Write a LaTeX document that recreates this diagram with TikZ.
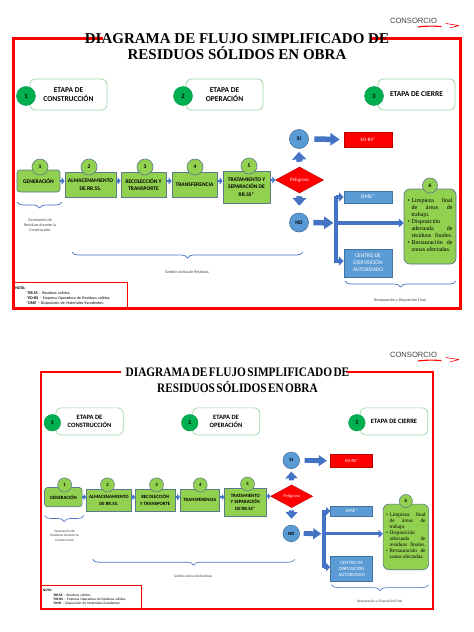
\documentclass[tikz,border=0pt]{standalone}
\usepackage{fontspec}
\usepackage{graphicx}
\setmainfont{Carlito}
\newfontfamily\serif{Liberation Serif}
\newfontfamily\arialf{Liberation Sans}
\usetikzlibrary{arrows.meta,shapes.geometric,decorations.pathreplacing}
\definecolor{frameRed}{HTML}{FF0000}
\definecolor{procGreen}{HTML}{92D050}
\definecolor{procEdge}{HTML}{5B7A8C}
\definecolor{stageGreen}{HTML}{00B050}
\definecolor{stageEdge}{HTML}{9ED8A8}
\definecolor{blueFill}{HTML}{5B9BD5}
\definecolor{blueEdge}{HTML}{41719C}
\definecolor{arrowBlue}{HTML}{4472C4}
\definecolor{labelGray}{HTML}{404040}
\definecolor{redEdge}{HTML}{C00000}
\newcommand\dsc{1}
\newcommand\condtitle[1]{\scalebox{0.87}[1]{\spaceskip=1.6pt\relax #1}}
\tikzset{
  stagebox/.style={draw=stageEdge, line width=0.8pt*\dsc, fill=white, rounded corners=5pt,
    minimum width=77pt, minimum height=31pt, inner sep=0pt, align=center,
    font=\bfseries\fontsize{7.5}{9.3}\selectfont},
  stagenum/.style={circle, fill=stageGreen, draw=stageGreen!85!black, line width=0.4pt*\dsc,
    minimum size=19pt, inner sep=0pt, font=\bfseries\fontsize{6.5}{7}\selectfont},
  procbox/.style={draw=procEdge, fill=procGreen, line width=0.7pt*\dsc, inner sep=0pt,
    align=center, font=\bfseries\fontsize{5.5}{7.5}\selectfont},
  procnum/.style={circle, fill=procGreen, draw=procEdge, line width=0.6pt*\dsc,
    minimum size=16pt, inner sep=0pt, font=\bfseries\fontsize{5.5}{6}\selectfont},
  bluecirc/.style={circle, fill=blueFill, draw=blueEdge, line width=0.6pt*\dsc,
    minimum size=19pt, inner sep=0pt, font=\bfseries\fontsize{5.5}{6}\selectfont},
  bluebox/.style={fill=blueFill, draw=blueEdge, line width=0.6pt*\dsc, inner sep=0pt,
    align=center, text=white, font=\fontsize{5.5}{7}\selectfont, minimum width=48pt},
  redbox/.style={fill=frameRed, draw=redEdge, line width=0.6pt*\dsc, inner sep=0pt,
    text=white, font=\fontsize{5}{6}\selectfont, minimum width=48pt, minimum height=15pt},
  decision/.style={diamond, aspect=1.85, fill=frameRed, draw=redEdge, line width=0.5pt*\dsc,
    inner sep=0pt, minimum width=48pt, minimum height=26pt, text=white,
    font=\serif\fontsize{5}{6}\selectfont},
  smallarr/.style={draw=arrowBlue, line width=2.5pt*\dsc, -{Triangle[length=0pt 1.2, width=0pt 2.8]}},
  bigarr/.style={draw=arrowBlue, line width=5.5pt*\dsc, -{Triangle[length=0pt 1.7, width=0pt 2.2]}},
  vertarr/.style={draw=arrowBlue, line width=6pt*\dsc, -{Triangle[length=0pt 1.3, width=0pt 2.3]}},
  brarr/.style={draw=arrowBlue, line width=3.5pt*\dsc, -{Triangle[length=0pt 1.4, width=0pt 2.6]}},
  trunkline/.style={draw=arrowBlue, line width=4.5pt*\dsc},
  bracestyle/.style={draw=arrowBlue, line width=0.7pt*\dsc, decorate,
    decoration={brace, amplitude=6pt, aspect=0.5}},
  smalllabel/.style={inner sep=0pt, align=center, text=labelGray, font=\fontsize{4}{5}\selectfont},
  notabox/.style={draw=frameRed, line width=0.6pt*\dsc, minimum width=114pt, minimum height=27pt,
    text width=110pt, inner sep=2pt, align=left, font=\fontsize{4}{5}\selectfont},
  finalbox/.style={procbox, rounded corners=6pt, minimum width=52pt, minimum height=75pt},
  finaltext/.style={inner sep=0pt, align=left, font=\serif\fontsize{6}{7}\selectfont},
  titlefont/.style={inner sep=0pt, anchor=base, font=\serif\bfseries\fontsize{15}{18}\selectfont},
  titlecond/.style={inner sep=0pt, anchor=base, font=\serif\bfseries\fontsize{13}{15}\selectfont},
  consorcio/.style={inner sep=0pt, anchor=base, text=labelGray, font=\arialf\fontsize{7.6}{9}\selectfont}
}
\newcommand\flowdiagram[2]{%
  % stages
  \node[stagebox] (sb1) at (68.5,94.5) {ETAPA DE\\CONSTRUCCIÓN};
  \node[stagenum] (sn1) at (26,96) {1};
  \node[stagebox] (sb2) at (224.5,94.5) {ETAPA DE\\OPERACIÓN};
  \node[stagenum] (sn2) at (183,96) {2};
  \node[stagebox] (sb3) at (416.5,94.5) {ETAPA DE CIERRE};
  \node[stagenum] (sn3) at (374,96) {3};
  % process row
  \node[procbox, rounded corners=3pt, minimum width=43pt, minimum height=22pt] (p1) at (38.5,181) {GENERACIÓN};
  \node[procbox, minimum width=51pt, minimum height=25pt] (p2) at (90.5,184.5) {ALMACENAMIENTO\\DE RR.SS.};
  \node[procbox, minimum width=45pt, minimum height=25pt] (p3) at (143.5,184.5) {#1};
  \node[procbox, minimum width=45pt, minimum height=25pt] (p4) at (194.5,184.5) {TRANSFERENCIA};
  \node[procbox, minimum width=47pt, minimum height=32pt] (p5) at (246.5,187) {#2};
  \node[procnum] (n1) at (40,167) {1};
  \node[procnum] (n2) at (89,167) {2};
  \node[procnum] (n3) at (145,167) {3};
  \node[procnum] (n4) at (195,167) {4};
  \node[procnum] (n5) at (249,166) {5};
  % decision
  \node[decision] (dia) at (299.5,180) {Peligroso};
  \node[bluecirc] (si) at (299,139) {SI};
  \node[bluecirc] (no) at (299,222.5) {NO};
  \node[redbox] (eo) at (368,139.5) {EO-RS*};
  \node[bluebox, minimum height=12pt] (dme) at (368,197) {DME*};
  \node[bluebox, minimum height=28pt] (cda) at (368,263) {CENTRO DE\\DISPOSICIÓN\\AUTORIZADO};
  \node[finalbox] (b6) at (430,226.5) {};
  \node[finaltext] (b6t) at (430,225) {%
    \makebox[4pt][l]{\textbullet}\makebox[41pt][s]{Limpieza final}\\
    \hspace*{4pt}\makebox[41pt][s]{de áreas de}\\
    \hspace*{4pt}trabajo.\\
    \makebox[4pt][l]{\textbullet}Disposición\\
    \hspace*{4pt}\makebox[41pt][s]{adecuada de}\\
    \hspace*{4pt}\makebox[41pt][s]{residuos finales.}\\
    \makebox[4pt][l]{\textbullet}\makebox[41pt][s]{Restauración de}\\
    \hspace*{4pt}zonas afectadas.};
  \node[procnum, minimum size=15pt] (n6) at (430,185.5) {6};
  % connectors
  \draw[smallarr] (p1.east) -- (p1.east -| p2.west);
  \draw[smallarr] (p2.east |- p1.east) -- (p3.west |- p1.east);
  \draw[smallarr] (p3.east |- p1.east) -- (p4.west |- p1.east);
  \draw[smallarr] (p4.east |- p1.east) -- (p5.west |- p1.east);
  \draw[smallarr] (p5.east |- dia.west) -- (dia.west);
  \draw[vertarr, shorten <=5pt*\dsc, shorten >=3pt*\dsc] (dia.north) -- (si.south);
  \draw[vertarr, shorten <=3pt*\dsc, shorten >=7pt*\dsc] (dia.south) -- (no.north);
  \draw[bigarr, shorten <=5.5pt*\dsc, shorten >=4pt*\dsc] (si.east) -- (eo.west);
  \coordinate (tt) at (336,195.5);
  \coordinate (tm) at (336,223);
  \coordinate (tb) at (336,262.5);
  \coordinate (ttb) at (336,197);
  \coordinate (tbb) at (336,261);
  \draw[trunkline] (tt) -- (tb);
  \draw[bigarr, shorten <=4.5pt*\dsc, shorten >=2.5pt*\dsc] (no.east) -- (tm);
  \draw[brarr] (ttb) -- (ttb -| dme.west);
  \draw[brarr] (tm) -- (tm -| b6.west);
  \draw[brarr] (tbb) -- (tbb -| cda.west);
  % braces and labels
  \coordinate (br1a) at (17,202);
  \coordinate (br1b) at (62,202);
  \draw[bracestyle] (br1b) -- (br1a);
  \node[smalllabel] (lab1) at (40,225) {Generación de\\Residuos durante la\\Construcción};
  \coordinate (br2a) at (72,252);
  \coordinate (br2b) at (303,252);
  \draw[bracestyle] (br2b) -- (br2a);
  \node[smalllabel] (lab2) at (187,272) {Gestión Activa de Residuos};
  \coordinate (br3a) at (345,281);
  \coordinate (br3b) at (456,281);
  \draw[bracestyle] (br3b) -- (br3a);
  \node[smalllabel] (lab3) at (400,300) {Restauración y Disposición Final};
  % note
  \node[notabox, anchor=north west] (nota) at (13,282) {\textbf{NOTA:}\\
    \hspace*{11pt}*\textbf{RR.SS} – Residuos sólidos.\\
    \hspace*{11pt}*\textbf{EO-RS} – Empresa Operadora de Residuos sólidos.\\
    \hspace*{11pt}*\textbf{DME} – Disposición de Materiales Excedentes.};
}
\begin{document}
\begin{tikzpicture}[x=1pt,y=-1pt]
\useasboundingbox (0,0) rectangle (474,632);
\fill[white] (0,0) rectangle (474,632);

% ---------- top copy ----------
\flowdiagram{RECOLECCIÓN Y\\TRANSPORTE}{TRATAMIENTO Y\\SEPARACIÓN DE\\RR.SS*}
\draw[frameRed, line width=3pt] (103,38) -- (13,38) -- (13,308) -- (460,308) -- (460,38) -- (370,38);
\node[titlefont] (t1) at (237,43.3) {DIAGRAMA DE FLUJO SIMPLIFICADO DE};
\node[titlefont] (t2) at (237,59.3) {RESIDUOS SÓLIDOS EN OBRA};
\node[consorcio] (c1) at (413.5,23.5) {CONSORCIO};
\draw[frameRed, line width=1.1pt, line cap=round] (418,27) .. controls (426,25.8) and (433,26) .. (441,26.5);
\draw[frameRed, line width=0.6pt, line cap=round, line join=round] (446,23.5) .. controls (452,24.2) .. (459,25.6) -- (450,27.8);

% ---------- bottom copy ----------
\begin{scope}[shift={(29.625,338.75)}, scale=0.875, transform shape, name prefix=B-]
\renewcommand\dsc{0.875}
\flowdiagram{RECOLECCIÓN\\Y TRANSPORTE}{TRATAMIENTO\\Y SEPARACIÓN\\DE RR.SS*}
\end{scope}
\draw[frameRed, line width=2.4pt] (121,372) -- (41,372) -- (41,609) -- (433,609) -- (433,372) -- (347,372);
\node[titlecond] (t3) at (237.5,376.5) {\condtitle{DIAGRAMA DE FLUJO SIMPLIFICADO DE}};
\node[titlecond] (t4) at (237.5,392.5) {\condtitle{RESIDUOS SÓLIDOS EN OBRA}};
\node[consorcio] (c2) at (413.5,357.5) {CONSORCIO};
\draw[frameRed, line width=1.1pt, line cap=round] (418,361) .. controls (426,359.8) and (433,360) .. (441,360.5);
\draw[frameRed, line width=0.6pt, line cap=round, line join=round] (446,357.5) .. controls (452,358.2) .. (459,359.6) -- (450,361.8);
\end{tikzpicture}
\end{document}
